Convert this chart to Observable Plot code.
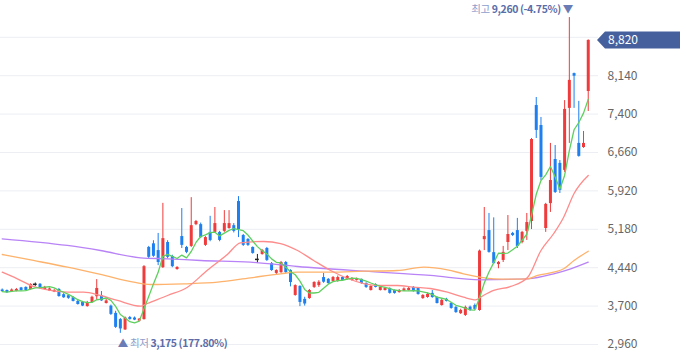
<!DOCTYPE html>
<html>
<head>
<meta charset="utf-8">
<script src="https://cdn.jsdelivr.net/npm/d3@7"></script>
<script src="https://cdn.jsdelivr.net/npm/@observablehq/plot@0.6"></script>
<style>
  html, body { margin: 0; padding: 0; background: #fff; }
  #chart { width: 680px; height: 358px; overflow: hidden; }
</style>
</head>
<body>
<div id="chart"></div>
<script>
// ---- daily candles (KRW) ----
const opens = [4010,4000,3980,3985,4050,4060,4020,4120,4120,4020,3990,3970,4020,3920,3900,3860,3790,3770,3690,3770,
  3880,3900,3750,3700,3560,3440,3240,3480,3470,3410,3440,4830,4900,4770,4440,4925,4655,4405,5040,4830,
  4850,5270,5270,4870,5120,5120,5120,5140,5195,5250,5715,5060,4985,4830,4600,4695,4810,4520,4330,4345,
  4540,4385,3905,4080,3830,3845,4060,4095,4250,4215,4175,4175,4250,4215,4195,4195,4215,4135,4000,4115,
  4000,4000,4040,4000,3960,3990,4000,4060,4040,3845,3865,3945,3865,3710,3830,3750,3675,3555,3520,3680,
  3710,3615,4980,5155,4730,4500,4580,4925,5100,5155,4925,5140,5330,7565,7180,5195,5675,6525,6450,6315,
  7510,8180,6835,6755,7835];
const highs = [4030,4010,4030,4040,4060,4070,4130,4145,4135,4080,4050,4020,4040,3940,3920,3880,3810,3790,3790,3890,
  4210,3980,3830,3720,3600,3460,3490,3500,3490,3460,4480,4850,4960,5100,5680,4960,4680,4460,5580,4850,
  5790,5350,5300,5040,5430,5600,5140,5540,5540,5290,5810,5080,5000,4840,4695,4790,4830,4540,4400,4560,
  4560,4400,4110,4090,3870,4020,4170,4190,4330,4230,4270,4280,4270,4290,4250,4240,4220,4150,4090,4130,
  4070,4050,4050,4010,4020,4050,4060,4075,4050,3920,3950,4000,3880,3830,3850,3770,3690,3640,3700,3700,
  3740,4780,5600,5485,5400,4560,4850,5445,5120,5390,5140,5485,6930,7720,7335,5680,6835,6795,6505,7660,
  9260,8190,7645,7065,8830];
const lows = [3970,3945,3970,3975,3990,3990,4010,4080,4025,4010,3980,3960,3870,3850,3830,3780,3720,3690,3680,3760,
  3810,3790,3740,3520,3270,3175,3230,3430,3420,3400,3430,4610,4640,4480,4425,4610,4440,4390,4810,4710,
  4830,5250,5000,4850,4940,5100,4940,5120,5180,5110,5020,4850,4850,4700,4520,4680,4560,4370,4290,4330,
  4330,4070,3890,3690,3700,3830,4040,4060,4140,4120,4160,4160,4180,4200,4180,4180,4120,4040,3990,4050,
  3990,3990,3930,3930,3950,3980,3990,3970,3910,3830,3850,3850,3740,3700,3780,3640,3560,3540,3500,3600,
  3620,3600,4770,4720,4500,4420,4540,4770,5040,4810,4900,4965,5175,6930,6120,5120,5505,5870,5870,6275,
  6835,7510,6570,6740,7450];
const closes = [3980,3960,4010,4020,4000,4000,4115,4120,4040,4060,4030,4000,3885,3860,3850,3790,3730,3700,3770,3870,
  4040,3800,3800,3540,3290,3260,3470,3440,3430,3450,4460,4640,4660,4540,5000,4640,4460,4445,4870,4735,
  5250,5330,5020,5020,4965,5290,4965,5290,5290,5140,5175,4870,4870,4715,4600,4770,4580,4385,4385,4540,
  4345,4155,4095,3770,3740,4000,4155,4160,4160,4135,4250,4250,4195,4270,4230,4220,4135,4060,4080,4060,
  4060,4040,3945,3945,4000,4030,4040,3980,3925,3905,3925,3865,3750,3810,3790,3655,3575,3615,3675,3620,
  3635,4760,5040,4735,4520,4540,4735,5080,5060,4850,5120,5310,6910,7085,6180,5660,6120,5890,5930,7490,
  8050,8130,6585,6835,8820];

// ---- moving averages (candle index, price) ----
const ma20Idx = [0,3.2,6.6,10.2,13.8,17.2,20.8,24.4,29.3,30.7,35,39.2,43.4,47.7,50.4,55.3,58.9,62.5,65.9,69.5,73.1,76.5,80,83.6,87,90.6,94.2,97.6,100.2,101.8,104,107.6,111.2,114,116.7,118.8,121,124];
const ma20Val = [4353,4226,4078,4001,3968,3968,3904,3808,3698,3750,3904,4064,4390,4700,4920,4945,4906,4771,4579,4386,4232,4135,4097,4097,4064,4039,3968,3871,3821,3904,4001,4078,4257,4771,5099,5413,5870,6217];
const ma60Idx = [0,6.6,13.8,20.8,27.8,31.4,38.4,45.6,52.5,58.9,62.5,69.5,76.5,83.6,89.2,94.2,97.6,101.2,104,107.6,111.2,113.3,116.7,118.8,121,124];
const ma60Val = [4694,4579,4450,4309,4160,4116,4130,4160,4245,4322,4353,4353,4372,4386,4450,4400,4322,4257,4226,4218,4226,4290,4353,4419,4579,4758];
const ma120Idx = [0,13.8,20.8,29.3,35,42,52.5,62.5,76.5,90.6,101.2,111.2,116.7,120.3,124];
const ma120Val = [4997,4868,4771,4631,4611,4579,4546,4463,4372,4290,4207,4226,4322,4419,4546];

// ---- axis ----
const yTicks = [2960,3700,4440,5180,5920,6660,7400,8140];
const gridValues = [2960,3700,4440,5180,5920,6660,7400,8140,8880];

const UP = "#ef3b3b", DOWN = "#1d7ff0", FLAT = "#222";
const candles = opens.map((o, i) => ({i, o, h: highs[i], l: lows[i], c: closes[i]}));
const col = d => d.c > d.o ? UP : d.c < d.o ? DOWN : FLAT;
const flat = candles.filter(d => d.c === d.o);
const pts = (xs, ys) => xs.map((x, k) => ({x, y: ys[k]}));

const chart = Plot.plot({
  width: 680, height: 358,
  marginLeft: 0, marginRight: 82, marginTop: 0, marginBottom: 0,
  x: {domain: [-0.36, 126.17], axis: null},
  y: {domain: [2690, 9589], axis: null},
  style: {fontFamily: "'Noto Sans CJK KR', 'Noto Sans', sans-serif", fontSize: "12px", background: "#fff", color: "#666", overflow: "visible"},
  marks: [
    Plot.ruleY(gridValues, {stroke: "#eceef3", strokeWidth: 1}),
    Plot.ruleX(candles, {x: "i", y1: "l", y2: "h", stroke: col, strokeWidth: 1}),
    Plot.ruleX(candles, {x: "i", y1: "o", y2: "c", stroke: col, strokeWidth: 3}),
    Plot.ruleY(flat, {y: "o", x1: d => d.i - 0.4, x2: d => d.i + 0.4, stroke: FLAT, strokeWidth: 1.5}),
    Plot.line(pts(ma120Idx, ma120Val), {x: "x", y: "y", stroke: "#b883f6", strokeWidth: 1.3, curve: "monotone-x"}),
    Plot.line(pts(ma60Idx, ma60Val), {x: "x", y: "y", stroke: "#ffb26b", strokeWidth: 1.3, curve: "monotone-x"}),
    Plot.line(pts(ma20Idx, ma20Val), {x: "x", y: "y", stroke: "#ff8b8b", strokeWidth: 1.3, curve: "monotone-x"}),
    Plot.lineY(candles, Plot.windowY({k: 5, anchor: "end"}, {x: "i", y: "c", stroke: "#5fd05f", strokeWidth: 1.3})),
    Plot.axisY(yTicks, {anchor: "right", tickSize: 0, tickPadding: 9, tickFormat: d3.format(","), fontSize: 12})
  ]
});
document.getElementById("chart").appendChild(chart);

// ---- annotations positioned through the plot's own scales ----
const xsc = chart.scale("x"), ysc = chart.scale("y");
const svg = d3.select(chart);
const fmt = d3.format(",");
const lastClose = closes[closes.length - 1];
const hiIdx = d3.maxIndex(highs), loIdx = d3.minIndex(lows);
const hiVal = highs[hiIdx], loVal = lows[loIdx];
const pct = v => d3.format(".2f")((lastClose - v) / v * 100).replace("\u2212", "-") + "%";

const hiLabel = svg.append("text")
  .attr("x", xsc.apply(hiIdx) + 4).attr("y", ysc.apply(hiVal) - 8)
  .attr("dy", "0.35em").attr("text-anchor", "end").attr("font-size", 10.5)
  .attr("letter-spacing", "-0.4px");
hiLabel.append("tspan").attr("fill", "#8e9dcb").text("최고 ");
hiLabel.append("tspan").attr("fill", "#5a6da8").attr("font-weight", "bold").text(`${fmt(hiVal)} (${pct(hiVal)}) `);
hiLabel.append("tspan").attr("fill", "#6a7cb5").text("▼");

const loLabel = svg.append("text")
  .attr("x", xsc.apply(loIdx) - 2).attr("y", ysc.apply(loVal) + 10)
  .attr("dy", "0.35em").attr("text-anchor", "start").attr("font-size", 10.5)
  .attr("letter-spacing", "-0.4px");
loLabel.append("tspan").attr("fill", "#6a7cb5").text("▲ ");
loLabel.append("tspan").attr("fill", "#8e9dcb").text("최저 ");
loLabel.append("tspan").attr("fill", "#5a6da8").attr("font-weight", "bold").text(`${fmt(loVal)} (${pct(loVal)})`);

const yl = ysc.apply(lastClose);
svg.append("path")
  .attr("d", `M597,${yl} L605,${yl - 8.5} L680,${yl - 8.5} L680,${yl + 8.5} L605,${yl + 8.5} Z`)
  .attr("fill", "#46609e");
svg.append("text").attr("x", 608).attr("y", yl).attr("dy", "0.35em")
  .attr("text-anchor", "start")
  .attr("fill", "#fff").attr("font-size", 12).text(fmt(lastClose));
</script>
</body>
</html>
